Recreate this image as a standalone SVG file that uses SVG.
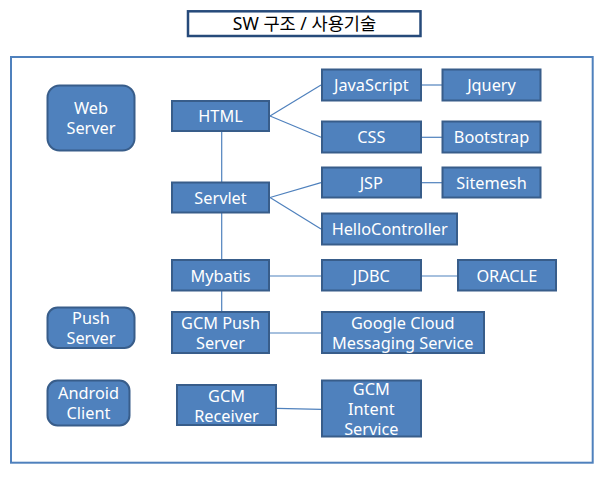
<svg xmlns="http://www.w3.org/2000/svg" width="612" height="478" viewBox="0 0 612 478">
<style>
.n{fill:#4F81BD;stroke:#385D8A;stroke-width:2}
.t{font-family:"Noto Sans","Open Sans",sans-serif;font-size:16.3px;fill:#ffffff;text-anchor:middle}
.c{stroke:#4F81BD;stroke-width:1.2;fill:none}
</style>
<rect width="612" height="478" fill="#ffffff"/>
<g id="title">
<rect x="188" y="11.3" width="232.5" height="24.7" fill="#ffffff" stroke="#264A7A" stroke-width="2.5"/>
<text x="304.5" y="30" font-family="'Noto Sans','Noto Sans CJK KR',sans-serif" font-size="17.6" fill="#000000" text-anchor="middle">SW 구조 / 사용기술</text>
</g>
<g id="frame">
<rect x="11" y="57" width="581.7" height="405.7" fill="none" stroke="#4F81BD" stroke-width="2"/>
</g>
<g id="connectors">
<line class="c" x1="221.7" y1="132" x2="221.7" y2="311"/>
<line class="c" x1="270" y1="116" x2="321" y2="85"/>
<line class="c" x1="270" y1="116" x2="321" y2="137.3"/>
<line class="c" x1="270" y1="197.5" x2="321" y2="182.7"/>
<line class="c" x1="270" y1="197.5" x2="321" y2="229"/>
<line class="c" x1="421" y1="85" x2="442" y2="85"/>
<line class="c" x1="421" y1="137.3" x2="442" y2="137.3"/>
<line class="c" x1="421" y1="182.7" x2="442" y2="182.7"/>
<line class="c" x1="270" y1="276" x2="321" y2="276"/>
<line class="c" x1="421" y1="276" x2="458" y2="276"/>
<line class="c" x1="270" y1="333" x2="321" y2="333"/>
<line class="c" x1="276.7" y1="408.3" x2="321.3" y2="409.3" stroke="#8FAADC"/>
</g>
<g id="web-server">
<rect class="n" x="47.5" y="85.5" width="87" height="65" rx="12"/>
<text class="t" x="91" y="114.3">Web</text>
<text class="t" x="91" y="134.3">Server</text>
</g>
<g id="push-server">
<rect class="n" x="47.5" y="307.5" width="87" height="40.5" rx="10"/>
<text class="t" x="91" y="324.3">Push</text>
<text class="t" x="91" y="344.3">Server</text>
</g>
<g id="android-client">
<rect class="n" x="47.5" y="380.5" width="82" height="45" rx="10"/>
<text class="t" x="88.5" y="399.3">Android</text>
<text class="t" x="88.5" y="419.3">Client</text>
</g>
<g id="html">
<rect class="n" x="172" y="101" width="97" height="30"/>
<text class="t" x="220.5" y="122">HTML</text>
</g>
<g id="servlet">
<rect class="n" x="172" y="182.5" width="97" height="30"/>
<text class="t" x="220.5" y="203.5">Servlet</text>
</g>
<g id="mybatis">
<rect class="n" x="172" y="260" width="97" height="30.5"/>
<text class="t" x="220.5" y="281.5">Mybatis</text>
</g>
<g id="gcm-push-server">
<rect class="n" x="172" y="312" width="97" height="41"/>
<text class="t" x="220.5" y="329.3">GCM Push</text>
<text class="t" x="220.5" y="349.3">Server</text>
</g>
<g id="gcm-receiver">
<rect class="n" x="177" y="385" width="99" height="40"/>
<text class="t" x="226.5" y="402">GCM</text>
<text class="t" x="226.5" y="422">Receiver</text>
</g>
<g id="javascript">
<rect class="n" x="322" y="69.5" width="99" height="31"/>
<text class="t" x="371.3" y="91">JavaScript</text>
</g>
<g id="jquery">
<rect class="n" x="442.5" y="69.5" width="98" height="31"/>
<text class="t" x="491.5" y="91">Jquery</text>
</g>
<g id="css">
<rect class="n" x="322" y="121.5" width="99" height="31"/>
<text class="t" x="371.3" y="143">CSS</text>
</g>
<g id="bootstrap">
<rect class="n" x="442.5" y="121.5" width="98" height="31"/>
<text class="t" x="491.5" y="143">Bootstrap</text>
</g>
<g id="jsp">
<rect class="n" x="322" y="167.5" width="99" height="30"/>
<text class="t" x="371.3" y="188.5">JSP</text>
</g>
<g id="sitemesh">
<rect class="n" x="442.5" y="167.5" width="98" height="30"/>
<text class="t" x="491.5" y="188.5">Sitemesh</text>
</g>
<g id="hellocontroller">
<rect class="n" x="322" y="213.5" width="135" height="31"/>
<text class="t" x="389.7" y="235">HelloController</text>
</g>
<g id="jdbc">
<rect class="n" x="322" y="260" width="99" height="30.5"/>
<text class="t" x="371.3" y="281.5">JDBC</text>
</g>
<g id="oracle">
<rect class="n" x="458" y="260" width="98" height="30.5"/>
<text class="t" x="506.8" y="281.5">ORACLE</text>
</g>
<g id="google-cloud-messaging">
<rect class="n" x="322" y="312" width="162" height="41"/>
<text class="t" x="402.8" y="329.3">Google Cloud</text>
<text class="t" x="402.8" y="349.3">Messaging Service</text>
</g>
<g id="gcm-intent-service">
<rect class="n" x="322" y="380.5" width="99" height="56"/>
<text class="t" x="371.3" y="395">GCM</text>
<text class="t" x="371.3" y="415">Intent</text>
<text class="t" x="371.3" y="435">Service</text>
</g>
</svg>
